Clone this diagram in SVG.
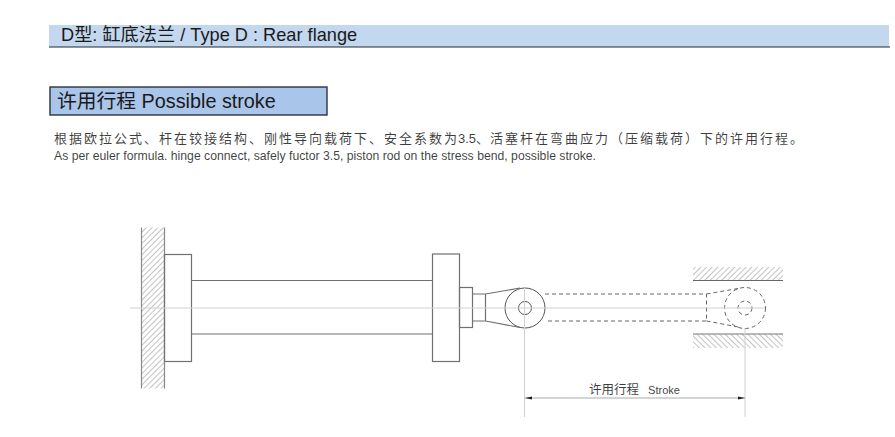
<svg xmlns="http://www.w3.org/2000/svg" width="895" height="437" viewBox="0 0 895 437">
<style>
.t{font-family:"Liberation Sans","Noto Sans CJK SC",sans-serif;fill:#1a1a1a}
.s{fill:none;stroke:#707070;stroke-width:1.2}
.d{fill:none;stroke:#666;stroke-width:1;stroke-dasharray:4 3}
.c{fill:none;stroke:#d0d0d0;stroke-width:1}
</style>
<defs>
<pattern id="h1" width="4" height="4" patternUnits="userSpaceOnUse" patternTransform="rotate(45)"><rect width="4" height="4" fill="#fff"/><line x1="0" y1="0" x2="0" y2="4" stroke="#aaa" stroke-width="1.4"/></pattern>
<pattern id="h2" width="4" height="4" patternUnits="userSpaceOnUse" patternTransform="rotate(-45)"><rect width="4" height="4" fill="#fff"/><line x1="0" y1="0" x2="0" y2="4" stroke="#aaa" stroke-width="1.4"/></pattern>
<marker id="a" markerWidth="8" markerHeight="5" refX="7" refY="2.5" orient="auto-start-reverse" markerUnits="userSpaceOnUse"><path d="M0 1L7 2.5L0 4Z" fill="#222"/></marker>
</defs>
<rect width="895" height="437" fill="#fff"/>
<g id="header">
<rect x="49" y="25" width="840" height="22" fill="#c3d8ef"/>
<line x1="49" y1="47" x2="890" y2="47" stroke="#1f2a3a" stroke-width="1.2"/>
<text class="t" x="61" y="41" font-size="18.200">D型: 缸底法兰 / Type D : Rear flange</text>
</g>
<g id="title">
<rect x="50" y="87" width="277" height="28" fill="#a9c5ea" stroke="#2b3340" stroke-width="1.4"/>
<text class="t" x="57" y="108" font-size="19.800">许用行程 Possible stroke</text>
</g>
<g id="description">
<text class="t" y="143" font-size="13" fill-opacity="0.85"><tspan x="54" letter-spacing="2">根据欧拉公式、杆在铰接结构、刚性导向载荷下、安全系数为</tspan><tspan x="458">3.5、</tspan><tspan x="490" letter-spacing="2">活塞杆在弯曲应力（压缩载荷）下的许用行程。</tspan></text>
<text class="t" x="54" y="160" font-size="12" fill-opacity="0.85" textLength="542" lengthAdjust="spacingAndGlyphs">As per euler formula. hinge connect, safely fuctor 3.5, piston rod on the stress bend, possible stroke.</text>
</g>
<g id="wall-left">
<rect x="141.500" y="227.500" width="23" height="161" fill="url(#h1)"/>
<path d="M141.500 227.500V388.500M164.500 227.500V388.500" fill="none" stroke="#888" stroke-width="1.200"/>
</g>
<g id="cylinder">
<rect class="s" x="164.500" y="254.500" width="27" height="107"/>
<line class="s" x1="191" y1="280.500" x2="432" y2="280.500"/>
<line class="s" x1="191" y1="334" x2="432" y2="334"/>
<rect class="s" x="432.500" y="254" width="27" height="107.500"/>
<rect class="s" x="459.500" y="287.500" width="13" height="40"/>
</g>
<g id="rod-eye">
<path class="s" d="M472.500 294H485.500V321H472.500M485.500 294L520 288M485.500 321L520 327.500"/>
<circle cx="525" cy="308" r="20" fill="#fff" stroke="#555"/>
<circle cx="525" cy="308" r="6.500" fill="#fff" stroke="#555"/>
</g>
<g id="rod-extended">
<path class="d" d="M545 294H706.500V321H545M706.500 294L741 288M706.500 321L741 327.500"/>
<circle class="d" cx="745" cy="308" r="20.500"/>
<circle class="d" cx="745" cy="308" r="7"/>
</g>
<g id="wall-right">
<rect x="693" y="267" width="90" height="13" fill="url(#h1)"/>
<line x1="693" y1="280.500" x2="783" y2="280.500" stroke="#666"/>
<rect x="693" y="334" width="90" height="14" fill="url(#h2)"/>
<line x1="693" y1="334" x2="783" y2="334" stroke="#777"/>
</g>
<g id="connectors">
<line class="c" x1="130" y1="308" x2="765" y2="308"/>
<line class="c" x1="524.500" y1="288" x2="524.500" y2="417"/>
<line class="c" x1="745" y1="328" x2="745" y2="417"/>
<line x1="525" y1="398" x2="745" y2="398" stroke="#aaa" marker-start="url(#a)" marker-end="url(#a)"/>
</g>
<g id="dimension-label">
<text class="t" y="394" font-size="12.500" fill-opacity="0.85"><tspan x="589">许用行程</tspan><tspan x="648" font-size="11.500" textLength="32" lengthAdjust="spacingAndGlyphs">Stroke</tspan></text>
</g>
</svg>
